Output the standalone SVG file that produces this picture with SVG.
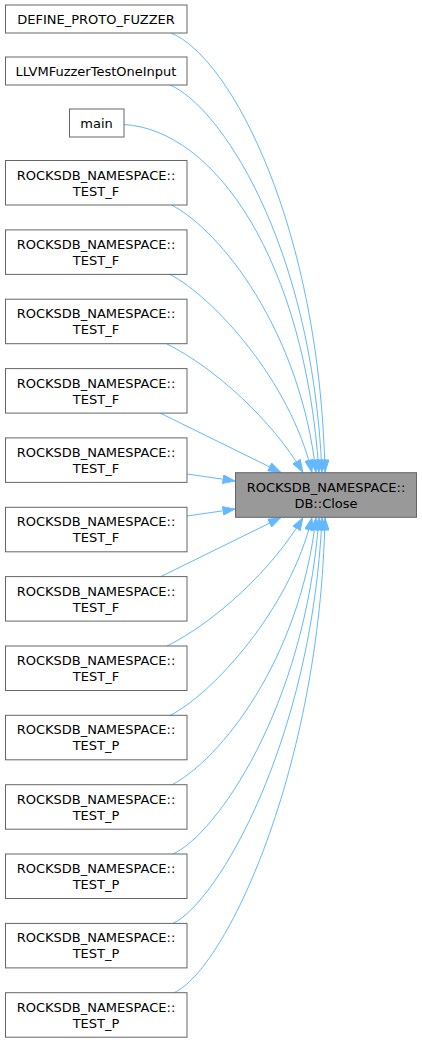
<svg xmlns="http://www.w3.org/2000/svg" width="422" height="1043" viewBox="0 0 422 1043">
<style>
.n rect{fill:#ffffff;stroke:#666666;stroke-width:1}
.t rect{fill:#999999;stroke:#666666;stroke-width:1}
text{font-family:"DejaVu Sans","Liberation Sans",sans-serif;font-size:13px;fill:#000000;text-anchor:middle}
.e path{fill:none;stroke:#63b8ff;stroke-width:1;marker-end:url(#ah)}
</style>
<defs>
<marker id="ah" markerUnits="userSpaceOnUse" viewBox="0 0 13 9.4" markerWidth="13" markerHeight="9.4" refX="13" refY="4.7" orient="auto">
<path d="M0.5,0.5 L12.5,4.7 L0.5,8.9 z" fill="#63b8ff" stroke="#63b8ff" stroke-width="1"/>
</marker>
</defs>
<rect width="422" height="1043" fill="#ffffff"/>
<g class="e" id="edges">
<path d="M171,33 C232,58 320,230 325,472.5"/>
<path d="M170,85 C218,105 312,240 322,472.5"/>
<path d="M124,124.5 C215,130 305,260 319,472.5"/>
<path d="M171.5,205 C220,230 300,330 316,472.5"/>
<path d="M170,274.5 C212,296 290,380 312,472.5"/>
<path d="M167,344 C215,368 272,420 303,472.5"/>
<path d="M160,413 L281,472.5"/>
<path d="M187,474 L235.5,481"/>
<path d="M187,516 L235.5,509"/>
<path d="M160,577 L281,517.5"/>
<path d="M167,646 C215,622 272,570 303,517.5"/>
<path d="M170,715.5 C212,694 290,610 312,517.5"/>
<path d="M171.5,785 C220,760 300,660 316,517.5"/>
<path d="M173,854 C215,835 305,710 319,517.5"/>
<path d="M173,923.4 C218,902 312,740 322,517.5"/>
<path d="M174,992.7 C225,970 320,770 325,517.5"/>
</g>
<g class="t" id="target"><rect x="235.5" y="472.7" width="181" height="44.6"/><text x="326" y="491.7">ROCKSDB_NAMESPACE::</text><text x="326" y="507.7">DB::Close</text></g>
<g class="n" id="n_define"><rect x="5.5" y="5" width="181.5" height="28"/><text x="96" y="23.5">DEFINE_PROTO_FUZZER</text></g>
<g class="n" id="n_llvm"><rect x="5.5" y="57" width="181.5" height="28"/><text x="96" y="75.5">LLVMFuzzerTestOneInput</text></g>
<g class="n" id="n_main"><rect x="69.5" y="109" width="54.5" height="28"/><text x="96.5" y="127.5">main</text></g>
<g class="n" id="n_f1"><rect x="5.5" y="160.5" width="181.5" height="44.5"/><text x="96" y="179.5">ROCKSDB_NAMESPACE::</text><text x="96" y="195.5">TEST_F</text></g>
<g class="n" id="n_f2"><rect x="5.5" y="229.9" width="181.5" height="44.5"/><text x="96" y="248.9">ROCKSDB_NAMESPACE::</text><text x="96" y="264.9">TEST_F</text></g>
<g class="n" id="n_f3"><rect x="5.5" y="299.2" width="181.5" height="44.5"/><text x="96" y="318.2">ROCKSDB_NAMESPACE::</text><text x="96" y="334.2">TEST_F</text></g>
<g class="n" id="n_f4"><rect x="5.5" y="368.6" width="181.5" height="44.5"/><text x="96" y="387.6">ROCKSDB_NAMESPACE::</text><text x="96" y="403.6">TEST_F</text></g>
<g class="n" id="n_f5"><rect x="5.5" y="437.9" width="181.5" height="44.5"/><text x="96" y="456.9">ROCKSDB_NAMESPACE::</text><text x="96" y="472.9">TEST_F</text></g>
<g class="n" id="n_f6"><rect x="5.5" y="507.3" width="181.5" height="44.5"/><text x="96" y="526.3">ROCKSDB_NAMESPACE::</text><text x="96" y="542.3">TEST_F</text></g>
<g class="n" id="n_f7"><rect x="5.5" y="576.6" width="181.5" height="44.5"/><text x="96" y="595.6">ROCKSDB_NAMESPACE::</text><text x="96" y="611.6">TEST_F</text></g>
<g class="n" id="n_f8"><rect x="5.5" y="646" width="181.5" height="44.5"/><text x="96" y="665">ROCKSDB_NAMESPACE::</text><text x="96" y="681">TEST_F</text></g>
<g class="n" id="n_p1"><rect x="5.5" y="715.3" width="181.5" height="44.5"/><text x="96" y="734.3">ROCKSDB_NAMESPACE::</text><text x="96" y="750.3">TEST_P</text></g>
<g class="n" id="n_p2"><rect x="5.5" y="784.7" width="181.5" height="44.5"/><text x="96" y="803.7">ROCKSDB_NAMESPACE::</text><text x="96" y="819.7">TEST_P</text></g>
<g class="n" id="n_p3"><rect x="5.5" y="854" width="181.5" height="44.5"/><text x="96" y="873">ROCKSDB_NAMESPACE::</text><text x="96" y="889">TEST_P</text></g>
<g class="n" id="n_p4"><rect x="5.5" y="923.4" width="181.5" height="44.5"/><text x="96" y="942.4">ROCKSDB_NAMESPACE::</text><text x="96" y="958.4">TEST_P</text></g>
<g class="n" id="n_p5"><rect x="5.5" y="992.7" width="181.5" height="44.5"/><text x="96" y="1011.7">ROCKSDB_NAMESPACE::</text><text x="96" y="1027.7">TEST_P</text></g>
</svg>
